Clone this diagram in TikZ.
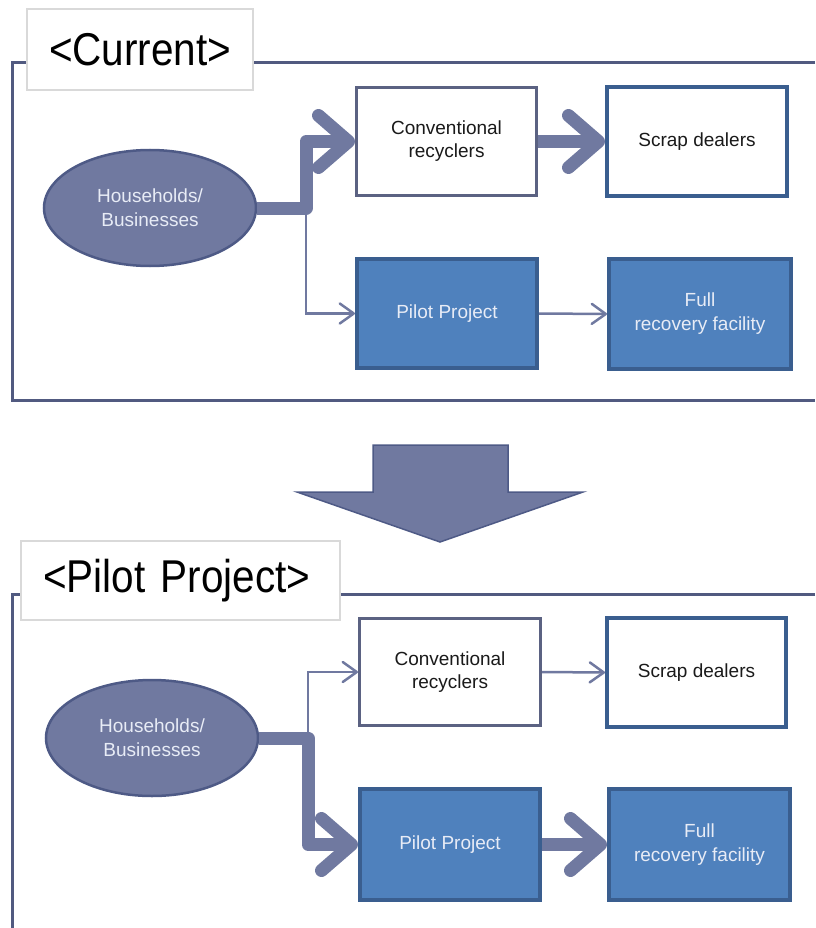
\documentclass[tikz,border=0pt]{standalone}
\usepackage{fontspec}
\setmainfont{Liberation Sans}
\newfontfamily\headfont[FakeStretch=0.88]{Liberation Sans}
\usetikzlibrary{arrows.meta,shapes.geometric}

\definecolor{slate}{HTML}{7079A0}
\definecolor{slateline}{HTML}{4E5A86}
\definecolor{framec}{HTML}{515A80}
\definecolor{greyblue}{HTML}{5B6282}
\definecolor{boxblue}{HTML}{4F81BD}
\definecolor{boxblueline}{HTML}{3A5E8F}
\definecolor{lighttext}{HTML}{E8ECF6}
\definecolor{tagline}{HTML}{D9D9D9}
\definecolor{darktext}{HTML}{1A1A1A}

\begin{document}
\begin{tikzpicture}[x=1pt,y=-1pt,
  panel/.style={draw=framec,line width=3pt},
  tagbox/.style={draw=tagline,fill=white,line width=1.2pt,inner xsep=0pt,
    align=left,font=\headfont\fontsize{46}{50}\selectfont},
  source/.style={ellipse,draw=slateline,fill=slate,line width=2.5pt,
    minimum width=212,minimum height=116,inner sep=0pt,align=center,
    text=lighttext,font=\fontsize{19}{24}\selectfont},
  plainbox/.style={draw=greyblue,fill=white,line width=3pt,align=center,
    text=darktext,font=\fontsize{19}{23}\selectfont},
  dealerbox/.style={draw=boxblueline,fill=white,line width=4pt,align=center,
    text=darktext,font=\fontsize{19}{23}\selectfont},
  pilotbox/.style={draw=boxblueline,fill=boxblue,line width=4pt,align=center,
    text=lighttext,font=\fontsize{19}{24}\selectfont},
  mainflow/.style={draw=slate,line width=13pt,line join=round,
    -{Straight Barb[length=30pt,width=52pt,round]}},
  sideflow/.style={draw=slate,line width=2.5pt,
    -{Straight Barb[length=14pt,width=20pt,round]}},
]
\useasboundingbox (0,0) rectangle (815,928);

% ---------- current situation ----------
\draw[panel] (815,63) -- (12,63) -- (12,400) -- (815,400);
\node[tagbox,minimum width=226,minimum height=81,text width=182pt]
  (tagA) at (140,49.5) {<Current>};

\node[source] (homeA) at (150,208) {Households/\\Businesses};
\node[plainbox,minimum width=180,minimum height=108] (convA) at (446.5,141.5)
  {Conventional\\recyclers};
\node[dealerbox,minimum width=180,minimum height=109] (scrapA) at (697,141.5)
  {Scrap dealers};
\node[pilotbox,minimum width=180,minimum height=109] (pilotA) at (447,313.5)
  {Pilot Project};
\node[pilotbox,minimum width=182,minimum height=110] (fullA) at (700,314)
  {Full\\recovery facility};

\coordinate (forkA) at (306,208);
\draw[sideflow] (forkA) |- (pilotA.west);
\draw[sideflow] (pilotA.east) -- (fullA.west);
\draw[mainflow] (homeA.east) -- (forkA) |- (convA.west);
\draw[mainflow] (convA.east) -- (scrapA.west);

% ---------- transition arrow ----------
\draw[draw=slateline,fill=slate,line width=1.5pt,line join=miter]
  (373,445) -- (508,445) -- (508,492) -- (583,492) -- (440,542)
  -- (297,492) -- (373,492) -- cycle;

% ---------- pilot project situation ----------
\draw[panel] (815,594) -- (12,594) -- (12,930);
\node[tagbox,minimum width=319,minimum height=79,text width=275pt]
  (tagB) at (180.5,580.5) {<Pilot Project>};

\node[source] (homeB) at (152,738) {Households/\\Businesses};
\node[plainbox,minimum width=181,minimum height=107] (convB) at (450,672)
  {Conventional\\recyclers};
\node[dealerbox,minimum width=179,minimum height=109] (scrapB) at (696.5,672.5)
  {Scrap dealers};
\node[pilotbox,minimum width=180,minimum height=111] (pilotB) at (450,844.5)
  {Pilot Project};
\node[pilotbox,minimum width=181,minimum height=111] (fullB) at (699.5,844.5)
  {Full\\recovery facility};

\coordinate (forkB) at (308,738);
\draw[sideflow] (forkB) |- (convB.west);
\draw[sideflow] (convB.east) -- (scrapB.west);
\draw[mainflow] (homeB.east) -- (forkB) |- (pilotB.west);
\draw[mainflow] (pilotB.east) -- (fullB.west);
\end{tikzpicture}
\end{document}
